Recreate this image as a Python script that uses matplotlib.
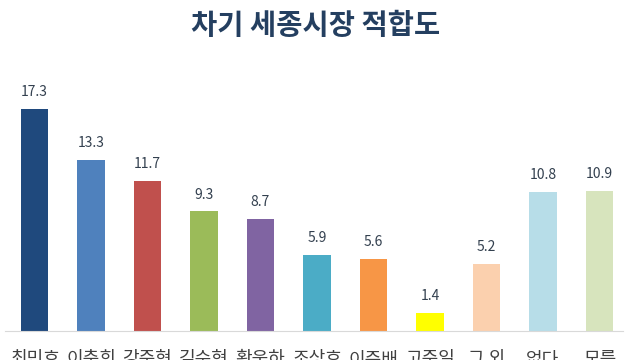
import matplotlib
matplotlib.use('Agg')
import matplotlib.pyplot as plt

plt.rcParams['font.family'] = ['Noto Sans CJK KR', 'DejaVu Sans']

# data
names = ['최민호', '이춘희', '강준현', '김수현', '황운하', '조상호', '이준배', '고준일', '그 외', '없다', '모름']
values = [17.3, 13.3, 11.7, 9.3, 8.7, 5.9, 5.6, 1.4, 5.2, 10.8, 10.9]
colors = ['#1f497d', '#4f81bd', '#c0504d', '#9bbb59', '#8064a2', '#4bacc6',
          '#f79646', '#ffff00', '#fbd0ae', '#b7dde8', '#d7e4bd']

fig = plt.figure(figsize=(6.4, 3.6), dpi=100)
ax = fig.add_axes([5/640, 29/360, 618/640, 251/360])

x = range(len(names))
bars = ax.bar(x, values, width=0.49, color=colors)
for b, v in zip(bars, values):
    ax.annotate(f'{v}', (b.get_x() + b.get_width()/2, v), xytext=(0, 7),
                textcoords='offset points', ha='center', va='bottom',
                fontsize=10, color='#33404f')

ax.set_xlim(-0.522, 10.416)
ax.set_ylim(0, 19.53)
ax.set_xticks(list(x))
ax.set_xticklabels(names, fontsize=13, color='#404040')
ax.tick_params(axis='x', length=0, pad=14)
ax.set_yticks([])
for s in ['top', 'right', 'left']:
    ax.spines[s].set_visible(False)
ax.spines['bottom'].set_color('#d9d9d9')

fig.text(316/640, 1 - 26/360, '차기 세종시장 적합도', ha='center', va='center',
         fontsize=20.5, fontweight='bold', color='#243f60')

plt.savefig('out.png', dpi=100)
